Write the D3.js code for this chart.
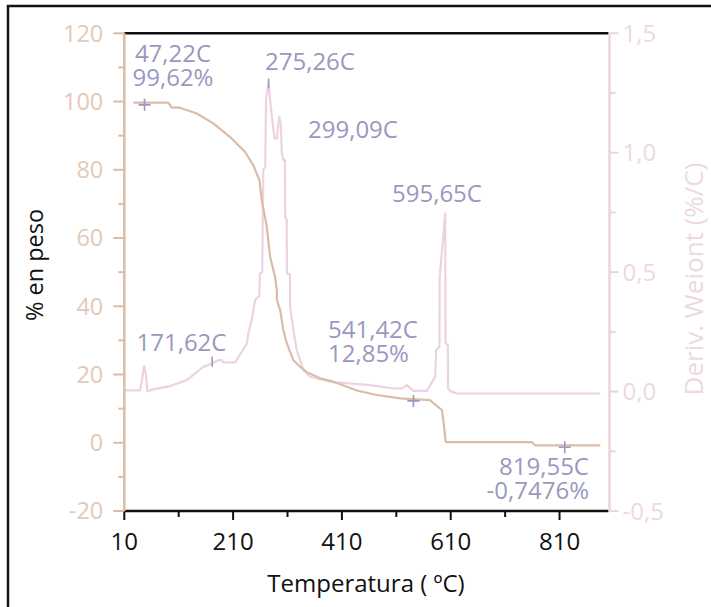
<!DOCTYPE html>
<html><head><meta charset="utf-8">
<script src="https://cdn.jsdelivr.net/npm/d3@7"></script>
<style>body{margin:0;background:#fff}svg{display:block}text{font-family:"Open Sans",sans-serif}</style>
</head><body><svg id="c" width="711" height="607"></svg>
<script>
// ---- data ----
const xTicks = [10, 210, 410, 610, 810];
const xMinor = [110, 310, 510, 710];
const yLeftTicks = [120, 100, 80, 60, 40, 20, 0, -20];
const yLeftMinor = [110, 90, 70, 50, 30, 10, -10];
const yRightTicks = [1.5, 1.0, 0.5, 0.0, -0.5];
const yRightLabels = ["1,5", "1,0", "0,5", "0,0", "-0,5"];
const yRightMinor = [1.25, 0.75, 0.25, -0.25];

// weight % vs temperature
const weightT = [26.6, 90.9, 97.2, 112.4, 143.2, 173.7, 204.4, 232, 247.2, 258.3, 262.7, 271.9, 278, 287.2, 290.3, 290.6, 296.4, 302.4, 308.7, 320.8, 333.1, 345.5, 369.9, 394.4, 437.4, 474.2, 517, 572.2, 575.3, 593.7, 596.7, 599.8, 600.5, 602, 759, 765, 885];
const weightV = [99.7, 99.7, 98.2, 98.2, 96.5, 93.6, 89.6, 85.2, 81.3, 77, 71.1, 63.3, 54.5, 48.6, 44.7, 41.8, 38.9, 33, 29.1, 24.2, 22.3, 20.7, 18.9, 17.9, 15.3, 14, 13, 12.5, 12, 9.6, 6.2, 1.8, 0.4, 0.2, 0.2, -0.75, -0.75];

// derivative weight %/C
const derivT = [10, 38.9, 42.5, 46.2, 49.9, 52.3, 63.3, 94, 124.8, 155.3, 173.7, 182.9, 189.1, 192.1, 213.6, 235.1, 238, 244.3, 250.4, 258, 259.5, 263.5, 265.5, 269, 270.5, 274.8, 276, 278, 281, 285.9, 290.3, 293, 295, 297.5, 299.5, 302, 305.2, 305.8, 308.5, 309, 314.5, 314.7, 320.8, 327, 339.2, 351.5, 388.3, 461.8, 504.7, 521, 529.4, 541.5, 566.1, 581.4, 583.2, 589.3, 589.6, 599.8, 600.5, 604.8, 605, 609.2, 621.3, 884.8];
const derivV = [0.005, 0.005, 0.048, 0.108, 0.069, 0.002, 0.009, 0.023, 0.048, 0.104, 0.12, 0.132, 0.132, 0.122, 0.122, 0.2, 0.244, 0.3, 0.383, 0.40, 0.495, 0.50, 0.93, 0.94, 1.22, 1.29, 1.27, 1.22, 1.16, 1.06, 1.06, 1.12, 1.15, 1.12, 1.0, 0.97, 0.97, 0.73, 0.72, 0.495, 0.49, 0.355, 0.257, 0.174, 0.09, 0.062, 0.041, 0.027, 0.013, 0.013, 0.027, 0.003, 0.003, 0.062, 0.174, 0.187, 0.475, 0.745, 0.203, 0.195, 0.015, 0.002, -0.008, -0.008];

// annotations
const crossPts = [[47.22, 99.62], [541.42, 12.85], [819.55, -0.7476]];
const peakMarks = [[275.26, 1.29], [171.62, 0.125]];

// ---- chart ----
const svg = d3.select("#c");
const L = 124.3, R = 608.5, T = 33.3, B = 511;
const x = d3.scaleLinear().domain([10, 900]).range([L, R]);
const yL = d3.scaleLinear().domain([-20, 120]).range([B, T]);
const yR = d3.scaleLinear().domain([-0.5, 1.5]).range([B, T]);

const cTan = "#dcbca6", cTanTxt = "#e3c9b8", cPink = "#ecd3df", cPinkTxt = "#eed8e2", cPurple = "#9a98bf";

// outer frame
svg.append("rect").attr("x", 8).attr("y", 6).attr("width", 800).attr("height", 800)
  .attr("fill", "none").attr("stroke", "#111").attr("stroke-width", 2.5);

// top line
svg.append("line").attr("x1", L).attr("x2", R).attr("y1", T).attr("y2", T).attr("stroke", "#111").attr("stroke-width", 2.5);

// curves
const wData = weightT.map((t, i) => [t, weightV[i]]);
const dData = derivT.map((t, i) => [t, derivV[i]]);
svg.append("path").attr("d", d3.line().x(d => x(d[0])).y(d => yR(d[1]))(dData))
  .attr("fill", "none").attr("stroke", cPink).attr("stroke-width", 2.2).attr("stroke-linejoin", "round");
svg.append("path").attr("d", d3.line().x(d => x(d[0])).y(d => yL(d[1]))(wData))
  .attr("fill", "none").attr("stroke", cTan).attr("stroke-width", 2.2).attr("stroke-linejoin", "round");

// bottom axis
const gx = svg.append("g").attr("transform", `translate(0,${B})`);
gx.append("line").attr("x1", L).attr("x2", R).attr("stroke", "#111").attr("stroke-width", 2.5);
gx.selectAll(".mj").data(xTicks).join("line").attr("x1", d => x(d)).attr("x2", d => x(d)).attr("y1", 0).attr("y2", 9).attr("stroke", "#111").attr("stroke-width", 2);
gx.selectAll(".mn").data(xMinor).join("line").attr("x1", d => x(d)).attr("x2", d => x(d)).attr("y1", 0).attr("y2", 6).attr("stroke", "#111").attr("stroke-width", 2);
gx.selectAll("text").data(xTicks).join("text").attr("x", d => x(d)).attr("y", 39).attr("text-anchor", "middle")
  .attr("font-size", 24).attr("fill", "#111").text(d => d);

// left axis
const gl = svg.append("g").attr("transform", `translate(${L},0)`);
gl.append("line").attr("y1", T).attr("y2", B).attr("stroke", cTan).attr("stroke-width", 2.5);
gl.selectAll(".mj").data(yLeftTicks).join("line").attr("x1", -11).attr("x2", 0).attr("y1", d => yL(d)).attr("y2", d => yL(d)).attr("stroke", cTan).attr("stroke-width", 2);
gl.selectAll(".mn").data(yLeftMinor).join("line").attr("x1", -6).attr("x2", 0).attr("y1", d => yL(d)).attr("y2", d => yL(d)).attr("stroke", cTan).attr("stroke-width", 2);
gl.selectAll("text").data(yLeftTicks).join("text").attr("x", -21).attr("y", d => yL(d)).attr("dy", "0.36em").attr("text-anchor", "end")
  .attr("font-size", 23.5).attr("fill", cTanTxt).text(d => d);

// right axis
const gr = svg.append("g").attr("transform", `translate(${R + 1},0)`);
gr.append("line").attr("y1", T).attr("y2", B).attr("stroke", cPink).attr("stroke-width", 2.5);
gr.selectAll(".mj").data(yRightTicks).join("line").attr("x1", 0).attr("x2", 9).attr("y1", d => yR(d)).attr("y2", d => yR(d)).attr("stroke", cPink).attr("stroke-width", 2);
gr.selectAll(".mn").data(yRightMinor).join("line").attr("x1", 0).attr("x2", 6).attr("y1", d => yR(d)).attr("y2", d => yR(d)).attr("stroke", cPink).attr("stroke-width", 2);
gr.selectAll("text").data(yRightTicks).join("text").attr("x", 13).attr("y", d => yR(d)).attr("dy", "0.36em").attr("text-anchor", "start")
  .attr("font-size", 24).attr("fill", cPinkTxt).text((d, i) => yRightLabels[i]);

// titles
svg.append("text").attr("x", 366).attr("y", 592).attr("text-anchor", "middle").attr("font-size", 24).attr("fill", "#111")
  .text("Temperatura ( ºC)");
svg.append("text").attr("transform", "translate(43,265) rotate(-90)").attr("text-anchor", "middle").attr("font-size", 23.5).attr("fill", "#111")
  .text("% en peso");
svg.append("text").attr("transform", "translate(703,279) rotate(-90)").attr("text-anchor", "middle").attr("font-size", 26).attr("fill", cPinkTxt)
  .text("Deriv. Weiont (%/C)");

// markers
svg.selectAll(".cross").data(crossPts).join("path")
  .attr("d", d => { const cx = x(d[0]), cy = yL(d[1]) + 2; return `M${cx - 6},${cy}H${cx + 6}M${cx},${cy - 6}V${cy + 6}`; })
  .attr("stroke", cPurple).attr("stroke-width", 1.6).attr("fill", "none");
svg.selectAll(".pk").data(peakMarks).join("line")
  .attr("x1", d => x(d[0])).attr("x2", d => x(d[0])).attr("y1", d => yR(d[1]) - 5).attr("y2", d => yR(d[1]) + 5)
  .attr("stroke", cPurple).attr("stroke-width", 1.6);

// annotation labels (multi-line labels as one text with tspans)
const ann = [
  [["47,22C", "99,62%"], 173, 62, "middle"],
  [["275,26C"], 310, 70, "middle"], [["299,09C"], 353, 138, "middle"],
  [["595,65C"], 437, 202, "middle"], [["171,62C"], 181.5, 351, "middle"],
  [["541,42C", "12,85%"], 328, 338, "start"],
  [["819,55C", "-0,7476%"], 589, 475, "end"]
];
const at = svg.selectAll(".ann").data(ann).join("text").attr("y", d => d[2]).attr("text-anchor", d => d[3])
  .attr("font-size", 24).attr("fill", cPurple);
at.selectAll("tspan").data(d => d[0].map((s, i) => ({ s, i, x: d[1] }))).join("tspan")
  .attr("x", d => d.x).attr("dy", d => d.i === 0 ? 0 : 24).text(d => d.s);
</script></body></html>
